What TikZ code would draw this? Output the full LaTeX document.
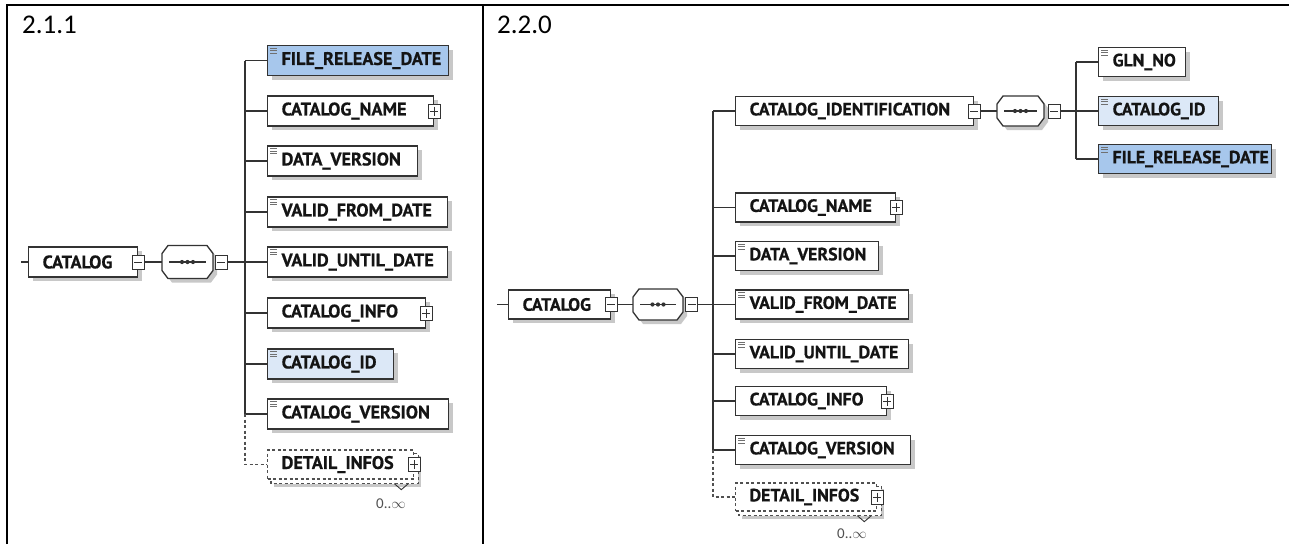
\documentclass[tikz,border=0pt]{standalone}
\usepackage{fontspec}
\setmainfont{Carlito}
\newfontfamily\boxfont{PT Sans}[BoldFeatures={FakeBold=0.6}]
\usetikzlibrary{calc,shadows,backgrounds}
\definecolor{edgec}{HTML}{333333}
\definecolor{blueA}{HTML}{A7C7EC}
\definecolor{blueB}{HTML}{DCE8F7}
\definecolor{shadec}{HTML}{C8C8C8}
\definecolor{multc}{HTML}{505050}
\definecolor{iconc}{HTML}{707070}
\tikzset{
  elembase/.style={draw=edgec, line width=1.3pt, fill=white, anchor=west, inner sep=0pt, text=black!92},
  elem/.style={elembase, drop shadow={shadow xshift=4pt, shadow yshift=-4pt, fill=shadec, opacity=1}},
  multel/.style={elembase, draw=multc, dash pattern=on 3pt off 2.5pt},
  fntL/.style={font=\boxfont\bfseries\fontsize{18.2}{19}\selectfont, minimum height=30pt},
  fntR/.style={font=\boxfont\bfseries\fontsize{17.8}{19}\selectfont, minimum height=29pt},
  blueone/.style={fill=blueA},
  bluetwo/.style={fill=blueB},
  pmb/.style={draw=edgec, line width=1pt, fill=white, minimum width=12pt, minimum height=14pt, inner sep=0pt},
  conn/.style={draw=edgec, line width=1.3pt},
  dconn/.style={draw=multc, line width=1.1pt, dash pattern=on 3pt off 2.5pt},
  seqn/.style={draw=none, inner sep=0pt},
  multi/.style={font=\fontsize{15}{16}\selectfont, text=multc, inner sep=0pt},
  titlef/.style={font=\fontsize{27}{30}\selectfont, anchor=base west, inner sep=0pt},
}
\newcommand\elemnode[6]{\node[elem,#5,minimum width=#4pt] (#1) at (#2,#3) {\makebox[#4pt][l]{\hspace{14pt}#6}};}
\newcommand\multnode[6]{\node[multel,#5,minimum width=#4pt] (#1) at (#2,#3) {\makebox[#4pt][l]{\hspace{14pt}#6}};}
\newcommand\simpleicon[1]{\draw[iconc, line width=0.7pt] ([shift={(3,3)}]#1.north west) -- ++(7,0) ([shift={(3,5.5)}]#1.north west) -- ++(7,0) ([shift={(3,8)}]#1.north west) -- ++(7,0);}
\newcommand\minusbox[2]{\node[pmb] (#1) at (#2) {}; \draw[edgec, line width=0.9pt] ([xshift=2.5pt]#1.west) -- ([xshift=-2.5pt]#1.east);}
\newcommand\plusbox[2]{\node[pmb] (#1) at (#2) {}; \draw[edgec, line width=0.9pt] ([xshift=2.5pt]#1.west) -- ([xshift=-2.5pt]#1.east) ([yshift=-3pt]#1.north) -- ([yshift=3pt]#1.south);}
\newcommand\seqnode[5]{%
  \node[seqn, minimum width={2*#4}, minimum height={2*#5}] (#1) at (#2,#3) {};
  \begin{scope}[shift={(#2,#3)}]
    \fill[shadec, shift={(4,4)}] (-#4+6,-#5) -- (#4-6,-#5) -- (#4,-#5+8) -- (#4,#5-8) -- (#4-6,#5) -- (-#4+6,#5) -- (-#4,#5-8) -- (-#4,-#5+8) -- cycle;
    \draw[conn, fill=white] (-#4+6,-#5) -- (#4-6,-#5) -- (#4,-#5+8) -- (#4,#5-8) -- (#4-6,#5) -- (-#4+6,#5) -- (-#4,#5-8) -- (-#4,-#5+8) -- cycle;
    \draw[edgec, line width=1.1pt] (-#4+7,0) -- (#4-7,0);
    \fill[edgec] (-5.5,0) circle[radius=2.1pt] (0,0) circle[radius=2.1pt] (5.5,0) circle[radius=2.1pt];
  \end{scope}}
\newcommand\multback[1]{%
  \begin{scope}[on background layer]
    \fill[shadec] ([shift={(7,7)}]#1.north west) rectangle ([shift={(7,7)}]#1.south east);
    \draw[dconn, fill=white] ([shift={(4,4)}]#1.north west) rectangle ([shift={(4,4)}]#1.south east);
  \end{scope}}
\begin{document}
\begin{tikzpicture}[x=1pt, y=-1pt]
\useasboundingbox (0,0) rectangle (1289,544);
\begin{scope}[on background layer]
\fill[white] (0,0) rectangle (1289,544);
\end{scope}
% table frame
\draw[line width=2pt] (7,544) -- (7,5) -- (1289,5);
\draw[line width=2pt] (483,5) -- (483,544);
\node[titlef] (t1) at (22,33) {2.1.1};
\node[titlef] (t2) at (497,33) {2.2.0};

% ---------------- left panel (2.1.1)
\coordinate (stubL) at (21,262);
\elemnode{catL}{28}{262}{109}{fntL}{CATALOG}
\minusbox{catLm}{catL.east}
\seqnode{seqL}{187.5}{262}{25.5}{16.5}
\minusbox{seqLm}{221,262}
\coordinate (spL) at (245,262);

\elemnode{cL1}{267}{60.5}{181}{fntL,blueone}{FILE\_RELEASE\_DATE}
\elemnode{cL2}{267}{111}{166}{fntL}{CATALOG\_NAME}
\elemnode{cL3}{267}{161}{150}{fntL}{DATA\_VERSION}
\elemnode{cL4}{267}{212}{180}{fntL}{VALID\_FROM\_DATE}
\elemnode{cL5}{267}{262}{180}{fntL}{VALID\_UNTIL\_DATE}
\elemnode{cL6}{267}{313}{158}{fntL}{CATALOG\_INFO}
\elemnode{cL7}{267}{364}{126}{fntL,bluetwo}{CATALOG\_ID}
\elemnode{cL8}{267}{414}{181}{fntL}{CATALOG\_VERSION}
\multnode{cL9}{267}{464.5}{146}{fntL,minimum height=29pt}{DETAIL\_INFOS}
\multback{cL9}
\simpleicon{cL1}\simpleicon{cL3}\simpleicon{cL4}\simpleicon{cL5}\simpleicon{cL7}\simpleicon{cL8}
\plusbox{cL2p}{cL2.east}
\plusbox{cL6p}{cL6.east}
\plusbox{cL9p}{cL9.east}
\draw[edgec, line width=0.9pt] ([shift={(-20,4)}]cL9.south east) -- ++(7,6) -- ++(7,-6);
\node[multi] (mL) at (391,504) {0..$\infty$};

\draw[conn] (stubL) -- (catL.west);
\draw[conn] (catLm.east) -- (seqL.west);
\draw[conn] (seqLm.east) -- (spL);
\draw[conn] (spL |- cL1.west) -- (spL |- cL8.west);
\foreach \k in {1,...,8} { \draw[conn] (spL |- cL\k.west) -- (cL\k.west); }
\draw[dconn] (spL |- cL8.west) -- (spL |- cL9.west) -- (cL9.west);

% ---------------- right panel (2.2.0)
\coordinate (stubR) at (497,304.5);
\elemnode{catR}{508}{304.5}{102}{fntR}{CATALOG}
\minusbox{catRm}{catR.east}
\seqnode{seqR}{658}{304.5}{25}{15.5}
\minusbox{seqRm}{691.5,304.5}
\coordinate (spR) at (713,304.5);

\elemnode{cR1}{735}{111}{238}{fntR}{CATALOG\_IDENTIFICATION}
\elemnode{cR2}{735}{207.5}{160}{fntR}{CATALOG\_NAME}
\elemnode{cR3}{735}{256}{143}{fntR}{DATA\_VERSION}
\elemnode{cR4}{735}{304.5}{173}{fntR}{VALID\_FROM\_DATE}
\elemnode{cR5}{735}{354}{173}{fntR}{VALID\_UNTIL\_DATE}
\elemnode{cR6}{735}{401}{151}{fntR}{CATALOG\_INFO}
\elemnode{cR7}{735}{450}{175}{fntR}{CATALOG\_VERSION}
\multnode{cR8}{735}{497}{141}{fntR,minimum height=28pt}{DETAIL\_INFOS}
\multback{cR8}
\simpleicon{cR3}\simpleicon{cR4}\simpleicon{cR5}\simpleicon{cR7}
\minusbox{cR1m}{cR1.east}
\plusbox{cR2p}{cR2.east}
\plusbox{cR6p}{cR6.east}
\plusbox{cR8p}{cR8.east}
\draw[edgec, line width=0.9pt] ([shift={(-20,4)}]cR8.south east) -- ++(7,6) -- ++(7,-6);
\node[multi] (mR) at (852,534) {0..$\infty$};

\draw[conn] (stubR) -- (catR.west);
\draw[conn] (catRm.east) -- (seqR.west);
\draw[conn] (seqRm.east) -- (spR);
\draw[conn] (spR |- cR1.west) -- (spR |- cR7.west);
\foreach \k in {1,...,7} { \draw[conn] (spR |- cR\k.west) -- (cR\k.west); }
\draw[dconn] (spR |- cR7.west) -- (spR |- cR8.west) -- (cR8.west);

% sub-sequence of CATALOG_IDENTIFICATION
\seqnode{seqS}{1020.5}{111}{23.5}{15}
\minusbox{seqSm}{1054,111}
\coordinate (spS) at (1076,111);
\elemnode{sR1}{1098}{62}{87}{fntR}{GLN\_NO}
\elemnode{sR2}{1098}{111}{120}{fntR,bluetwo}{CATALOG\_ID}
\elemnode{sR3}{1098}{159}{173}{fntR,blueone}{FILE\_RELEASE\_DATE}
\simpleicon{sR1}\simpleicon{sR2}\simpleicon{sR3}
\draw[conn] (cR1m.east) -- (seqS.west);
\draw[conn] (seqSm.east) -- (spS);
\draw[conn] (spS |- sR1.west) -- (spS |- sR3.west);
\foreach \k in {1,2,3} { \draw[conn] (spS |- sR\k.west) -- (sR\k.west); }
\end{tikzpicture}
\end{document}
